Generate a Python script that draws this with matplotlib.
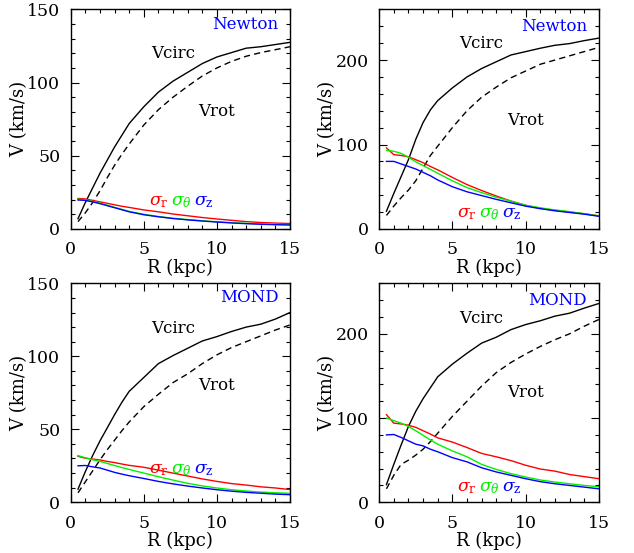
import numpy as np
import matplotlib
matplotlib.use('Agg')
import matplotlib.pyplot as plt
from matplotlib.ticker import MultipleLocator

plt.rcParams['font.family'] = 'DejaVu Serif'
plt.rcParams['mathtext.fontset'] = 'dejavuserif'

# radius grid (kpc), shared by every curve
R = [0.5, 1, 1.5, 2, 2.5, 3, 3.5, 4, 5, 6, 7, 8, 9, 10, 11, 12, 13, 14, 15]

# Newton, low-mass disc
newt_lo_vcirc = [7, 18, 28, 38, 47, 56, 64, 72, 83.5, 93.5, 101, 107, 113, 117.5, 120.5, 123.5, 124.5, 126, 127.5]
newt_lo_vrot = [5, 11, 18, 26, 35, 43.5, 51, 58, 71, 81.5, 90, 97.5, 104.5, 110, 114.5, 118, 120.5, 122.5, 124.5]
newt_lo_sr = [20.8, 20.5, 19.5, 18.5, 17.5, 16.5, 15.5, 14.7, 13, 11.7, 10.2, 9, 7.8, 6.8, 5.9, 5, 4.4, 4, 3.7]
newt_lo_st = [20.3, 19.8, 18.8, 17.6, 16.2, 14.8, 13.4, 12, 10, 8.5, 7.3, 6.4, 5.6, 4.9, 4.3, 3.8, 3.4, 3.1, 2.9]
newt_lo_sz = [19.8, 19.5, 18.5, 17.3, 15.9, 14.5, 13.1, 11.7, 9.7, 8.3, 7.1, 6.2, 5.4, 4.7, 4.1, 3.6, 3.2, 2.9, 2.7]

# Newton, massive disc
newt_hi_vcirc = [21, 42, 62, 82, 106, 126, 141, 152, 167, 180, 190, 198, 206, 210, 214, 217.5, 219.5, 223, 226]
newt_hi_vrot = [16, 27, 37, 46, 57, 72, 87, 98, 120, 140, 156, 168, 179, 187, 195, 200, 205, 210, 215]
newt_hi_sr = [96, 88, 87, 85.5, 82, 78.5, 74, 70, 61, 52.5, 45.5, 39, 33, 28, 24.5, 22, 20, 18, 15.5]
newt_hi_st = [93, 92, 89.5, 85, 79.5, 75, 70.5, 66, 57, 49, 43, 37.5, 33, 28, 25, 22.5, 20.5, 18, 15.5]
newt_hi_sz = [80, 80, 77, 74, 71, 67, 63, 58, 50, 44, 39.5, 35, 31, 27, 24, 21.5, 19.5, 17.5, 15]

# MOND, low-mass disc
mond_lo_vcirc = [9, 21, 32, 42, 51, 60, 68.5, 76, 85.5, 95, 100.5, 105.5, 110.5, 113.5, 117, 120, 122, 125.5, 130]
mond_lo_vrot = [6.5, 14, 21.5, 29, 36, 42.5, 49, 55, 65.5, 74, 82, 88, 95, 101, 106, 110, 114, 118, 121.5]
mond_lo_sr = [31.5, 30.2, 29.6, 29, 28, 27.2, 26.2, 25.3, 24, 22, 20, 18, 16, 14.3, 12.8, 11.8, 10.6, 9.8, 8.7]
mond_lo_st = [32, 30.5, 29.2, 28, 26.6, 25.2, 23.8, 22.5, 20, 17.5, 15.2, 13, 11.2, 9.8, 8.6, 7.7, 7, 6.5, 6.2]
mond_lo_sz = [25, 25.2, 24.3, 23.5, 22, 20.5, 19.3, 18.2, 16.3, 14.3, 12.6, 11.1, 9.8, 8.6, 7.6, 6.8, 6.2, 5.6, 5.2]

# MOND, massive disc
mond_hi_vcirc = [21, 45, 68, 90, 108, 123, 136, 149, 164, 177, 189, 196, 205, 211, 215.5, 221, 224.5, 230.5, 236]
mond_hi_vrot = [16, 32, 45, 50, 56, 63, 72, 82, 102, 120, 138, 154, 166, 176, 185, 193, 200, 209, 217]
mond_hi_sr = [104, 94, 93, 91.5, 89, 85, 81, 76.5, 71.5, 65, 58, 54, 49.5, 44, 39.5, 37, 33, 30.5, 28]
mond_hi_st = [100, 97, 94, 90, 85, 79.5, 74, 69, 61, 54, 45, 39, 34, 30, 26.5, 24, 22, 20, 18.5]
mond_hi_sz = [80, 80.5, 77, 73, 69, 67, 63, 60, 53, 48, 41, 36, 32, 28, 24.5, 22, 20, 18, 16]

GREEN = '#00f000'

panels = [
    # rect, model, vcirc, vrot, sr, st, sz, ymax, ymajor, yminor, label positions
    ([0.1115, 0.586, 0.346, 0.397], 'Newton', newt_lo_vcirc, newt_lo_vrot,
     newt_lo_sr, newt_lo_st, newt_lo_sz, 150, 50, 10, (7.0, 120), (10.0, 80), 140, 19),
    ([0.598, 0.586, 0.3465, 0.397], 'Newton', newt_hi_vcirc, newt_hi_vrot,
     newt_hi_sr, newt_hi_st, newt_hi_sz, 260, 100, 20, (6.95, 220), (10.0, 129), 240, 18),
    ([0.1115, 0.0917, 0.346, 0.396], 'MOND', mond_lo_vcirc, mond_lo_vrot,
     mond_lo_sr, mond_lo_st, mond_lo_sz, 150, 50, 10, (7.0, 119), (10.0, 80), 140, 22.5),
    ([0.598, 0.0917, 0.3465, 0.396], 'MOND', mond_hi_vcirc, mond_hi_vrot,
     mond_hi_sr, mond_hi_st, mond_hi_sz, 260, 100, 20, (6.95, 218), (10.0, 130), 240, 17),
]

fig = plt.figure(figsize=(6.34, 5.53), dpi=100)

for (rect, model, vc, vr, sr, st, sz, ymax, ymaj, ymin,
     pos_circ, pos_rot, y_model, y_sig) in panels:
    ax = fig.add_axes(rect)
    ax.plot(R, vc, color='black', lw=1.0)
    ax.plot(R, vr, color='black', lw=1.0, dashes=(4.5, 3))
    ax.plot(R, sr, color='red', lw=1.0)
    ax.plot(R, st, color=GREEN, lw=1.0)
    ax.plot(R, sz, color='blue', lw=1.0)

    ax.set_xlim(0, 15)
    ax.set_ylim(0, ymax)
    ax.xaxis.set_major_locator(MultipleLocator(5))
    ax.xaxis.set_minor_locator(MultipleLocator(1))
    ax.yaxis.set_major_locator(MultipleLocator(ymaj))
    ax.yaxis.set_minor_locator(MultipleLocator(ymin))
    ax.tick_params(which='both', direction='in', top=True, right=True,
                   width=0.8, labelsize=12.5)
    ax.tick_params(which='major', length=6)
    ax.tick_params(which='minor', length=3)
    ax.tick_params(axis='x', pad=9)
    ax.tick_params(axis='y', pad=7.5)
    for sp in ax.spines.values():
        sp.set_linewidth(1.0)

    ax.set_xlabel('R (kpc)', fontsize=13, labelpad=0)
    ax.set_ylabel('V (km/s)', fontsize=13)
    ax.yaxis.set_label_coords(-0.195, 0.5)

    ax.text(pos_circ[0], pos_circ[1], 'Vcirc', fontsize=12, ha='center', va='center')
    ax.text(pos_rot[0], pos_rot[1], 'Vrot', fontsize=12, ha='center', va='center')
    ax.text(14.2, y_model, model, fontsize=12, color='blue', ha='right', va='center')

    ax.text(5.35, y_sig, r'$\sigma_\mathrm{r}$', fontsize=12.5, color='red', ha='left', va='center')
    ax.text(6.85, y_sig, r'$\sigma_\theta$', fontsize=12.5, color=GREEN, ha='left', va='center')
    ax.text(8.4, y_sig, r'$\sigma_\mathrm{z}$', fontsize=12.5, color='blue', ha='left', va='center')

fig.savefig('out.png', dpi=100)
